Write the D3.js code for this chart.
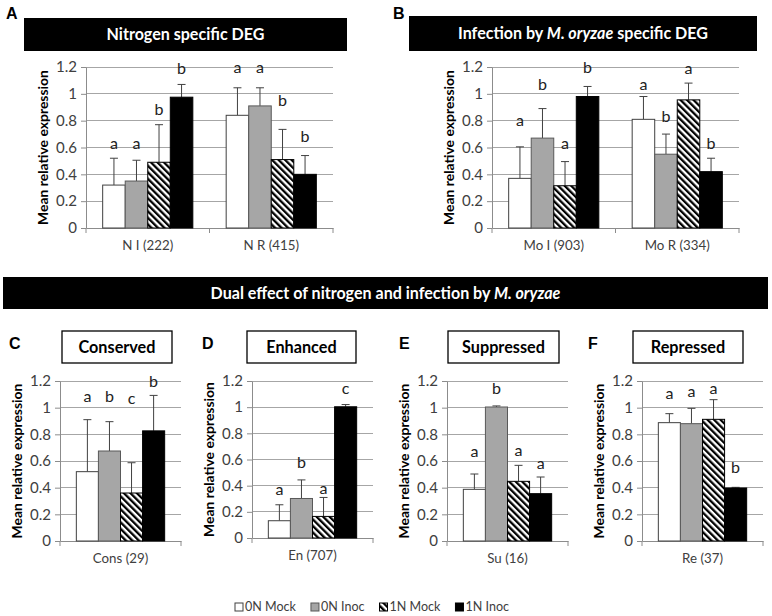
<!DOCTYPE html>
<html><head><meta charset="utf-8">
<script src="https://cdn.jsdelivr.net/npm/d3@7"></script>
<style>body{margin:0;background:#fff} svg{display:block}</style>
</head><body><svg id="c" width="772" height="616"></svg>
<script>
// ---------------- DATA ----------------
const seriesNames = ["0N Mock", "0N Inoc", "1N Mock", "1N Inoc"];
const yTickVals = [0, 0.2, 0.4, 0.6, 0.8, 1, 1.2];
const yTickLabels = ["0", "0.2", "0.4", "0.6", "0.8", "1", "1.2"];

const catsA = ["N I (222)", "N R (415)"];
const meanA = [[0.32, 0.35, 0.49, 0.975], [0.84, 0.91, 0.51, 0.40]];
const errA = [[0.20, 0.155, 0.28, 0.095], [0.205, 0.135, 0.225, 0.14]];
const letA = [["a", "a", "b", "b"], ["a", "a", "b", "b"]];
const letLvlA = [[0.627, 0.627, 0.88, 1.187], [1.196, 1.196, 0.948, 0.68]];

const catsB = ["Mo I (903)", "Mo R (334)"];
const meanB = [[0.37, 0.67, 0.315, 0.98], [0.81, 0.55, 0.955, 0.42]];
const errB = [[0.235, 0.22, 0.18, 0.075], [0.17, 0.15, 0.125, 0.10]];
const letB = [["a", "b", "a", "b"], ["a", "b", "a", "b"]];
const letLvlB = [[0.798, 1.069, 0.625, 1.193], [1.069, 0.828, 1.183, 0.63]];

const catsC = ["Cons (29)"];
const meanC = [[0.52, 0.675, 0.36, 0.826]];
const errC = [[0.39, 0.22, 0.227, 0.266]];
const letC = [["a", "b", "c", "b"]];
const letLvlC = [[1.08, 1.08, 1.0675, 1.19]];

const catsD = ["En (707)"];
const meanD = [[0.132, 0.302, 0.165, 1.003]];
const errD = [[0.122, 0.142, 0.145, 0.017]];
const letD = [["a", "b", "a", "c"]];
const letLvlD = [[0.368, 0.576, 0.373, 1.142]];

const catsE = ["Su (16)"];
const meanE = [[0.3875, 1.005, 0.4475, 0.355]];
const errE = [[0.115, 0.008, 0.12, 0.125]];
const letE = [["a", "b", "a", "a"]];
const letLvlE = [[0.6675, 1.1425, 0.6725, 0.575]];

const catsF = ["Re (37)"];
const meanF = [[0.8875, 0.88, 0.9125, 0.3975]];
const errF = [[0.0675, 0.115, 0.1475, 0.005]];
const letF = [["a", "a", "a", "b"]];
const letLvlF = [[1.105, 1.1175, 1.1425, 0.55]];

// ---------------- DRAW ----------------
const FONT = "Lato, 'Open Sans', sans-serif";
const LFONT = "'Liberation Sans', Arial, sans-serif";
const svg = d3.select("#c");

// font sizes fitted so that sample strings match the widths seen in the reference
function fitSize(str, weight, target) {
  const t = svg.append("text").style("font-family", FONT).style("font-weight", weight)
    .style("font-size", "20px").text(str);
  const w = t.node().getComputedTextLength();
  t.remove();
  return 20 * target / w;
}
const fsTick = fitSize("0.8", "normal", 21);
const fsYTitle = fitSize("Mean relative expression", "bold", 155);
const fsCat = fitSize("N I (222)", "normal", 51);
const fsBar = fitSize("Nitrogen specific DEG", "bold", 158);
const fsBox = fitSize("Conserved", "bold", 77);
const fsLeg = fitSize("0N Mock", "normal", 51);
const fsLet = fitSize("a", "normal", 8);

const defs = svg.append("defs");
const hp = defs.append("pattern").attr("id", "hatch").attr("patternUnits", "userSpaceOnUse")
  .attr("width", 4.6).attr("height", 4.6).attr("patternTransform", "rotate(-45)");
hp.append("rect").attr("width", 4.6).attr("height", 4.6).attr("fill", "#fff");
hp.append("rect").attr("width", 2.3).attr("height", 4.6).attr("fill", "#000");

const fills = ["#ffffff", "#a6a6a6", "url(#hatch)", "#000000"];
const strokes = ["#404040", "#595959", "#000000", "#000000"];
const gridCol = "#a6a6a6";
const axisCol = "#8c8c8c";
const textCol = "#404040";

function panel(o) {
  const y = d3.scaleLinear().domain([0, 1.2]).range([o.yb, o.yt]);
  const x = d3.scaleBand().domain(o.cats).range([o.x0, o.x1]).paddingInner(0.27).paddingOuter(0.135);
  const xs = d3.scaleBand().domain(seriesNames).range([0, x.bandwidth()]);
  const g = svg.append("g");

  g.selectAll("line.grid").data(yTickVals.slice(1)).join("line")
    .attr("x1", o.x0).attr("x2", o.x1)
    .attr("y1", d => y(d)).attr("y2", d => y(d))
    .attr("stroke", gridCol).attr("stroke-width", 1).attr("shape-rendering", "crispEdges");

  const ya = g.append("g").attr("transform", `translate(${o.x0},0)`)
    .call(d3.axisLeft(y).tickValues(yTickVals).tickFormat((d, i) => yTickLabels[i]).tickSize(5).tickSizeOuter(0).tickPadding(4));
  ya.select(".domain").attr("stroke", axisCol);
  ya.selectAll(".tick line").attr("stroke", axisCol);
  ya.selectAll(".tick text").attr("fill", textCol).style("font-family", FONT).style("font-size", fsTick + "px");

  const xa = g.append("g").attr("transform", `translate(0,${o.yb})`)
    .call(d3.axisBottom(x).tickSize(0).tickSizeOuter(0).tickPadding(13));
  xa.select(".domain").attr("stroke", axisCol);
  xa.selectAll(".tick text").attr("fill", textCol).style("font-family", FONT).style("font-size", fsCat + "px");
  const bounds = o.cats.map(c => x(c) - x.step() * x.paddingInner() / 2);
  bounds.push(bounds[bounds.length - 1] + x.step());
  g.selectAll("line.xt").data(bounds).join("line")
    .attr("x1", d => d).attr("x2", d => d).attr("y1", o.yb).attr("y2", o.yb + 5)
    .attr("stroke", axisCol);

  o.cats.forEach((c, i) => {
    seriesNames.forEach((s, j) => {
      const v = o.mean[i][j], e = o.err[i][j];
      const bx = x(c) + xs(s), bw = xs.bandwidth(), cx = bx + bw / 2;
      g.append("line").attr("x1", cx).attr("x2", cx).attr("y1", y(v)).attr("y2", y(v + e))
        .attr("stroke", "#404040").attr("stroke-width", 1);
      g.append("line").attr("x1", cx - 4).attr("x2", cx + 4).attr("y1", y(v + e)).attr("y2", y(v + e))
        .attr("stroke", "#404040").attr("stroke-width", 1);
      g.append("rect").attr("x", bx).attr("y", y(v)).attr("width", bw).attr("height", y(0) - y(v))
        .attr("fill", fills[j]).attr("stroke", strokes[j]).attr("stroke-width", 1);
      g.append("text").attr("x", cx).attr("y", y(o.lvl[i][j])).attr("dy", "0.32em")
        .attr("text-anchor", "middle").attr("fill", "#222")
        .style("font-family", FONT).style("font-size", fsLet + "px").text(o.let[i][j]);
    });
  });

  g.append("text").attr("transform", `translate(${o.x0 - 43},${(o.yb + o.yt) / 2}) rotate(-90)`)
    .attr("text-anchor", "middle").attr("dy", "0.35em").attr("fill", "#000")
    .style("font-family", FONT).style("font-weight", "bold").style("font-size", fsYTitle + "px")
    .text("Mean relative expression");
}

function blackBar(x0, x1, y0, y1, parts) {
  svg.append("rect").attr("x", x0).attr("y", y0).attr("width", x1 - x0).attr("height", y1 - y0).attr("fill", "#000");
  const t = svg.append("text").attr("x", (x0 + x1) / 2).attr("y", (y0 + y1) / 2).attr("dy", "0.35em")
    .attr("text-anchor", "middle").attr("fill", "#fff")
    .style("font-family", FONT).style("font-weight", "bold").style("font-size", fsBar + "px");
  parts.forEach(p => t.append("tspan").style("font-style", p[1] ? "italic" : "normal").text(p[0]));
}
function boxTitle(x0, x1, y0, y1, txt) {
  svg.append("rect").attr("x", x0).attr("y", y0).attr("width", x1 - x0).attr("height", y1 - y0)
    .attr("fill", "#fff").attr("stroke", "#000").attr("stroke-width", 1.3);
  svg.append("text").attr("x", (x0 + x1) / 2).attr("y", (y0 + y1) / 2).attr("dy", "0.36em")
    .attr("text-anchor", "middle").attr("fill", "#000")
    .style("font-family", FONT).style("font-weight", "bold").style("font-size", fsBox + "px").text(txt);
}
function letter(x, y, t) {
  svg.append("text").attr("x", x).attr("y", y).attr("dy", "0.36em").attr("fill", "#000")
    .style("font-family", LFONT).style("font-weight", "bold").style("font-size", "16px").text(t);
}

letter(6, 13, "A");
letter(393, 13, "B");
blackBar(24, 347, 18, 51, [["Nitrogen specific DEG", false]]);
blackBar(409, 757, 16, 51, [["Infection by ", false], ["M. oryzae", true], [" specific DEG", false]]);
blackBar(3, 768, 277, 309, [["Dual effect of nitrogen and infection by ", false], ["M. oryzae", true]]);

panel({x0: 86, x1: 333, yb: 228, yt: 67, cats: catsA, mean: meanA, err: errA, let: letA, lvl: letLvlA});
panel({x0: 492, x1: 739, yb: 228, yt: 67, cats: catsB, mean: meanB, err: errB, let: letB, lvl: letLvlB});

letter(9, 343, "C");
letter(202, 343, "D");
letter(399, 343, "E");
letter(588, 343, "F");
boxTitle(62, 172, 331, 363, "Conserved");
boxTitle(247, 356, 331, 363, "Enhanced");
boxTitle(448, 559, 331, 363, "Suppressed");
boxTitle(633, 743, 331, 363, "Repressed");

panel({x0: 60, x1: 181, yb: 541, yt: 381, cats: catsC, mean: meanC, err: errC, let: letC, lvl: letLvlC});
panel({x0: 252, x1: 373, yb: 538, yt: 381, cats: catsD, mean: meanD, err: errD, let: letD, lvl: letLvlD});
panel({x0: 447, x1: 568, yb: 541, yt: 381, cats: catsE, mean: meanE, err: errE, let: letE, lvl: letLvlE});
panel({x0: 642, x1: 763, yb: 541, yt: 381, cats: catsF, mean: meanF, err: errF, let: letF, lvl: letLvlF});

// legend
const lg = svg.append("g");
let lx = 235;
const ly = 607;
seriesNames.forEach((s, j) => {
  lg.append("rect").attr("x", lx).attr("y", ly - 4).attr("width", 8).attr("height", 8)
    .attr("fill", fills[j]).attr("stroke", strokes[j]).attr("stroke-width", 1);
  const t = lg.append("text").attr("x", lx + 10).attr("y", ly).attr("dy", "0.35em").attr("fill", textCol)
    .style("font-family", FONT).style("font-size", fsLeg + "px").text(s);
  lx += 10 + t.node().getComputedTextLength() + 15;
});
</script></body></html>
